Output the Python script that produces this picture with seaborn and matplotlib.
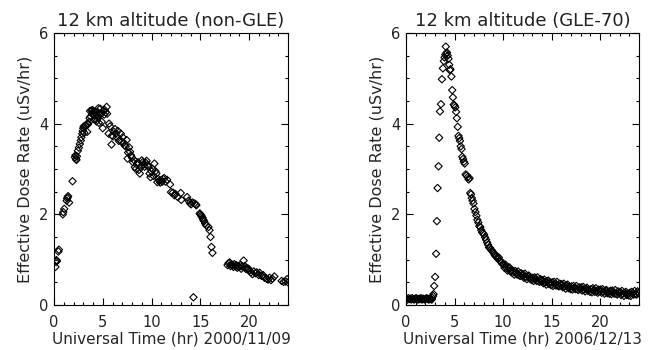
import matplotlib
matplotlib.use("Agg")
import matplotlib.pyplot as plt
import seaborn as sns
from matplotlib.ticker import MultipleLocator

# 12 km altitude, non-GLE day (2000/11/09)
hours_nongle = [
    0.15, 0.2, 0.25, 0.3, 0.45, 0.5, 0.9, 0.95, 1.05, 1.3, 1.35, 1.4, 1.45, 1.55,
    1.9, 2.15, 2.2, 2.25, 2.3, 2.35, 2.45, 2.55, 2.65, 2.75, 2.8, 2.9, 2.95, 3.0,
    3.05, 3.1, 3.2, 3.3, 3.4, 3.45, 3.5, 3.6, 3.65, 3.7, 3.75, 3.85, 3.9, 3.95,
    4.0, 4.05, 4.1, 4.15, 4.2, 4.3, 4.35, 4.4, 4.45, 4.5, 4.55, 4.6, 4.7, 4.75,
    4.8, 4.9, 5.0, 5.05, 5.15, 5.2, 5.3, 5.4, 5.45, 5.6, 5.65, 5.75, 5.9, 5.95,
    6.05, 6.15, 6.25, 6.35, 6.45, 6.55, 6.65, 6.75, 6.85, 6.95, 7.05, 7.15, 7.25,
    7.35, 7.45, 7.55, 7.6, 7.7, 7.8, 7.9, 8.0, 8.1, 8.2, 8.3, 8.4, 8.5, 8.6, 8.7,
    8.8, 8.9, 9.0, 9.1, 9.2, 9.3, 9.4, 9.5, 9.6, 9.7, 9.8, 9.9, 10.0, 10.1, 10.2,
    10.3, 10.4, 10.5, 10.6, 10.7, 10.8, 10.9, 11.0, 11.1, 11.2, 11.3, 11.45, 11.6,
    11.9, 12.0, 12.2, 12.35, 12.45, 12.7, 13.0, 13.05, 13.65, 13.8, 13.95, 14.05,
    14.2, 14.4, 14.55, 14.6, 14.3, 14.95, 15.0, 15.1, 15.15, 15.25, 15.3, 15.4,
    15.5, 15.6, 15.85, 15.95, 16.05, 16.15, 16.25, 17.8, 17.9, 18.0, 18.1, 18.2,
    18.3, 18.4, 18.5, 18.6, 18.7, 18.8, 18.9, 19.0, 19.1, 19.2, 19.3, 19.45,
    19.55, 19.65, 19.75, 19.85, 19.95, 20.05, 20.2, 20.35, 20.5, 20.65, 20.8,
    21.0, 21.1, 21.3, 21.45, 21.6, 21.8, 21.95, 22.1, 22.25, 22.4, 22.6, 23.35,
    23.55, 23.75, 23.9, 24.0,
]
dose_nongle = [
    0.84, 0.95, 0.99, 0.97, 1.18, 1.22, 2.0, 2.05, 2.12, 2.3, 2.35, 2.38, 2.4, 2.26,
    2.73, 3.26, 3.3, 3.22, 3.2, 3.28, 3.4, 3.47, 3.55, 3.63, 3.7, 3.78, 3.84, 3.9,
    3.94, 3.8, 3.96, 3.96, 3.82, 3.98, 4.0, 4.04, 4.12, 4.28, 4.16, 4.29, 4.22, 4.3,
    4.2, 4.27, 4.1, 4.25, 4.18, 4.1, 4.05, 4.2, 4.26, 4.15, 4.34, 4.02, 4.22, 4.33,
    4.2, 4.04, 3.9, 4.28, 4.2, 4.3, 4.25, 4.37, 4.22, 3.78, 4.0, 3.94, 3.54, 3.74,
    3.72, 3.82, 3.88, 3.78, 3.7, 3.84, 3.62, 3.64, 3.78, 3.6, 3.7, 3.58, 3.52,
    3.5, 3.64, 3.23, 3.36, 3.48, 3.38, 3.3, 3.25, 3.15, 3.2, 3.04, 3.0, 3.1, 3.15, 2.98,
    2.9, 3.05, 3.19, 3.15, 3.1, 3.05, 3.14, 3.18, 3.08, 3.04, 2.9, 2.82, 2.95, 3.0, 2.85,
    3.12, 2.95, 2.9, 2.71, 2.78, 2.74, 2.7, 2.76, 2.72, 2.78, 2.8, 2.72, 2.76,
    2.66, 2.49, 2.48, 2.42, 2.45, 2.38, 2.47, 2.32, 2.38, 2.3, 2.25, 2.22,
    2.26, 2.24, 2.22, 2.2, 0.17, 2.02, 2.0, 1.98, 1.95, 1.92, 1.88, 1.85,
    1.8, 1.76, 1.72, 1.65, 1.5, 1.28, 1.15, 0.88, 0.92, 0.94, 0.86, 0.9,
    0.88, 0.84, 0.9, 0.85, 0.88, 0.82, 0.86, 0.84, 0.88, 0.8, 0.85, 0.98,
    0.86, 0.8, 0.82, 0.78, 0.8, 0.76, 0.72, 0.68, 0.74, 0.7, 0.72,
    0.66, 0.71, 0.64, 0.66, 0.6, 0.58, 0.56, 0.6, 0.55, 0.58, 0.63, 0.53,
    0.51, 0.52, 0.57, 0.5,
]

# 12 km altitude, GLE-70 (2006/12/13)
hours_gle = [
    0.05, 0.15, 0.25, 0.35, 0.45, 0.55, 0.65, 0.75, 0.85, 0.95, 1.05, 1.15, 1.25,
    1.35, 1.45, 1.55, 1.65, 1.75, 1.85, 1.95, 2.05, 2.15, 2.25, 2.35, 2.45, 2.55,
    2.65, 2.7, 2.78, 2.83, 2.9, 3.0, 3.1, 3.18, 3.25, 3.35, 3.42, 3.5, 3.6, 3.7,
    3.8, 3.9, 3.97, 4.05, 4.1, 4.15, 4.22, 4.3, 4.38, 4.45, 4.52, 4.58, 4.68, 4.76,
    4.83, 4.92, 5.0, 5.08, 5.16, 5.24, 5.33, 5.41, 5.48, 5.56, 5.64, 5.72, 5.8,
    5.88, 5.96, 6.05, 6.15, 6.25, 6.35, 6.45, 6.55, 6.62, 6.7, 6.78, 6.86, 6.95,
    7.05, 7.15, 7.25, 7.35, 7.45, 7.55, 7.65, 7.75, 7.85, 7.95, 8.05, 8.15, 8.25,
    8.35, 8.45, 8.55, 8.65, 8.75, 8.85, 8.95, 9.05, 9.15, 9.25, 9.35, 9.45, 9.55,
    9.65, 9.75, 9.85, 9.95,
    10.05, 10.15, 10.25, 10.35, 10.45, 10.55, 10.65, 10.75, 10.85, 10.95,
    11.05, 11.15, 11.25, 11.35, 11.45, 11.55, 11.65, 11.75, 11.85, 11.95,
    12.05, 12.15, 12.25, 12.35, 12.45, 12.55, 12.65, 12.75, 12.85, 12.95,
    13.05, 13.15, 13.25, 13.35, 13.45, 13.55, 13.65, 13.75, 13.85, 13.95,
    14.05, 14.15, 14.25, 14.35, 14.45, 14.55, 14.65, 14.75, 14.85, 14.95,
    15.05, 15.15, 15.25, 15.35, 15.45, 15.55, 15.65, 15.75, 15.85, 15.95,
    16.05, 16.15, 16.25, 16.35, 16.45, 16.55, 16.65, 16.75, 16.85, 16.95,
    17.05, 17.15, 17.25, 17.35, 17.45, 17.55, 17.65, 17.75, 17.85, 17.95,
    18.05, 18.15, 18.25, 18.35, 18.45, 18.55, 18.65, 18.75, 18.85, 18.95,
    19.05, 19.15, 19.25, 19.35, 19.45, 19.55, 19.65, 19.75, 19.85, 19.95,
    20.05, 20.15, 20.25, 20.35, 20.45, 20.55, 20.65, 20.75, 20.85, 20.95,
    21.05, 21.15, 21.25, 21.35, 21.45, 21.55, 21.65, 21.75, 21.85, 21.95,
    22.05, 22.15, 22.25, 22.35, 22.45, 22.55, 22.65, 22.75, 22.85, 22.95,
    23.05, 23.15, 23.25, 23.35, 23.45, 23.55, 23.65, 23.75, 23.85, 23.95,
]
dose_gle = [
    0.14, 0.12, 0.15, 0.13, 0.14, 0.12, 0.15, 0.13, 0.12, 0.14, 0.15, 0.13, 0.12,
    0.14, 0.13, 0.15, 0.12, 0.14, 0.13, 0.12, 0.14, 0.15, 0.13, 0.12, 0.14, 0.13,
    0.12, 0.16, 0.2, 0.24, 0.42, 0.62, 1.13, 1.85, 2.58, 3.06, 3.69, 4.27, 4.43, 4.98,
    5.22, 5.38, 5.46, 5.52, 5.7, 5.55, 5.57, 5.5, 5.43, 5.3, 5.18, 5.2, 5.04, 4.74,
    4.58, 4.42, 4.4, 4.36, 4.26, 4.12, 3.93, 3.73, 3.68, 3.62, 3.5, 3.44, 3.27,
    3.22, 3.16, 3.12, 2.88, 2.86, 2.82, 2.77, 2.8, 2.47, 2.44, 2.36, 2.3, 2.24,
    2.12, 2.05, 1.97, 1.88, 1.82, 1.74, 1.72, 1.65, 1.6, 1.58, 1.55, 1.49, 1.44,
    1.38, 1.33, 1.27, 1.26, 1.22, 1.2, 1.17, 1.14, 1.1, 1.07, 1.08, 1.02, 1.05,
    0.98, 0.97, 0.93, 0.9,
    0.90, 0.82, 0.89, 0.82, 0.76, 0.82, 0.83, 0.74, 0.76, 0.71,
    0.75, 0.67, 0.75, 0.71, 0.67, 0.74, 0.66, 0.64, 0.70, 0.65,
    0.68, 0.60, 0.69, 0.62, 0.57, 0.64, 0.65, 0.58, 0.60, 0.55,
    0.60, 0.53, 0.61, 0.57, 0.53, 0.61, 0.53, 0.51, 0.57, 0.52,
    0.55, 0.48, 0.56, 0.50, 0.45, 0.52, 0.54, 0.46, 0.49, 0.44,
    0.50, 0.42, 0.51, 0.46, 0.43, 0.51, 0.43, 0.41, 0.47, 0.43,
    0.46, 0.39, 0.47, 0.41, 0.36, 0.43, 0.45, 0.37, 0.40, 0.35,
    0.41, 0.34, 0.42, 0.38, 0.35, 0.42, 0.35, 0.33, 0.39, 0.35,
    0.39, 0.32, 0.40, 0.34, 0.30, 0.36, 0.38, 0.31, 0.33, 0.29,
    0.35, 0.28, 0.37, 0.32, 0.29, 0.37, 0.30, 0.27, 0.34, 0.30,
    0.34, 0.27, 0.35, 0.29, 0.25, 0.32, 0.33, 0.26, 0.29, 0.25,
    0.31, 0.24, 0.32, 0.28, 0.25, 0.33, 0.25, 0.23, 0.30, 0.26,
    0.29, 0.22, 0.31, 0.25, 0.20, 0.27, 0.29, 0.22, 0.25, 0.21,
    0.27, 0.20, 0.29, 0.26, 0.23, 0.31, 0.24, 0.23, 0.30, 0.26,
]

panels = [
    (hours_nongle, dose_nongle, "12 km altitude (non-GLE)", "2000/11/09"),
    (hours_gle, dose_gle, "12 km altitude (GLE-70)", "2006/12/13"),
]

sns.set_style("ticks")
plt.rcParams["font.family"] = ["DejaVu Sans"]
plt.rcParams["text.color"] = "#222222"

fig = plt.figure(figsize=(6.53, 3.5), dpi=100)
boxes = [
    [54 / 653, 45 / 350, 234 / 653, 272 / 350],
    [406 / 653, 45 / 350, 233 / 653, 272 / 350],
]

for box, (hrs, dose, title, date) in zip(boxes, panels):
    ax = fig.add_axes(box)
    sns.scatterplot(
        x=hrs, y=dose, ax=ax, marker="D", s=14,
        facecolor="none", edgecolor="black", linewidth=0.8,
    )
    ax.set_xlim(0, 24)
    ax.set_ylim(0, 6)
    ax.xaxis.set_major_locator(MultipleLocator(5))
    ax.xaxis.set_minor_locator(MultipleLocator(1))
    ax.yaxis.set_major_locator(MultipleLocator(2))
    ax.yaxis.set_minor_locator(MultipleLocator(0.5))
    ax.tick_params(which="both", direction="in", top=True, right=True,
                   width=0.8, color="black", labelsize=10.5, labelcolor="#222222")
    ax.tick_params(which="major", length=5)
    ax.tick_params(which="minor", length=2.5)
    ax.tick_params(axis="x", pad=7)
    ax.tick_params(axis="y", pad=4)
    for sp in ax.spines.values():
        sp.set_linewidth(0.8)
        sp.set_color("black")
    ax.set_title(title, fontsize=13, pad=5)
    ax.set_xlabel(f"Universal Time (hr) {date}", fontsize=11, labelpad=1)
    ax.set_ylabel("Effective Dose Rate (uSv/hr)", fontsize=11.5, labelpad=5)

fig.savefig("out.png", dpi=100)
